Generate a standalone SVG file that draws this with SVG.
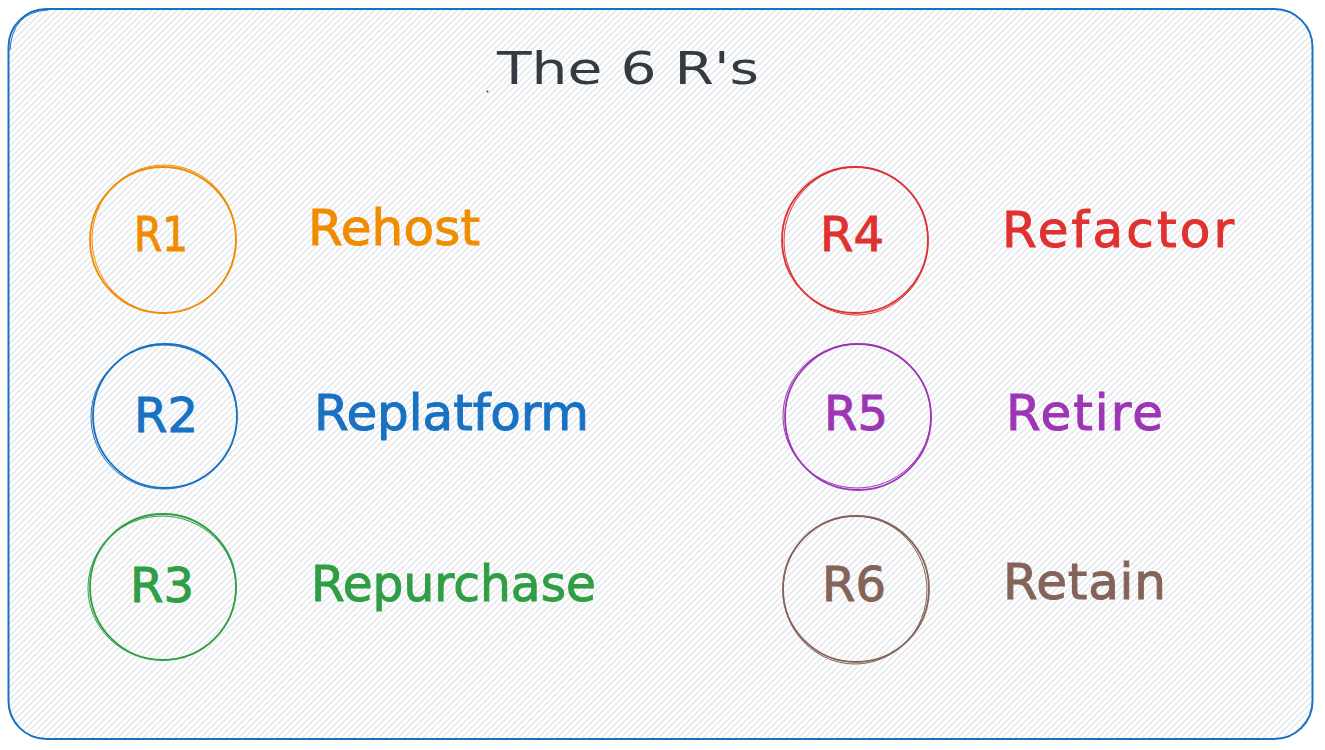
<svg xmlns="http://www.w3.org/2000/svg" width="1325" height="750" viewBox="0 0 1325 750">
  <defs>
    <pattern id="hatch" patternUnits="userSpaceOnUse" width="4.5" height="10" patternTransform="rotate(45)">
      <line x1="2" y1="-1" x2="2" y2="11" stroke="#d5dae0" stroke-width="1"/>
    </pattern>
    <style>
      .lbl { font-family: "DejaVu Sans", "Liberation Sans", sans-serif; font-size: 48px; text-anchor: middle; }
      .name { font-family: "DejaVu Sans", "Liberation Sans", sans-serif; font-size: 50px; }
      .orange { stroke: #f08c00; fill: #f08c00; }
      .blue { stroke: #1971c2; fill: #1971c2; }
      .green { stroke: #2f9e44; fill: #2f9e44; }
      .red { stroke: #e03131; fill: #e03131; }
      .purple { stroke: #9c36b5; fill: #9c36b5; }
      .brown { stroke: #846358; fill: #846358; }
      .ring { fill: none; stroke-width: 1.8; }
      .ring2 { fill: none; stroke-width: 1; }
      text { stroke: none; }
    </style>
  </defs>
  <rect width="1325" height="750" fill="#ffffff"/>
  <g id="frame">
    <rect x="8.5" y="9" width="1304" height="730" rx="38" ry="38" fill="url(#hatch)" stroke="#1971c2" stroke-width="2"/>
    <path d="M10 50 Q12 12 48 10" fill="none" stroke="#1971c2" stroke-width="1"/>
  </g>
  <g id="title">
    <text x="497" y="84" font-family="DejaVu Sans, Liberation Sans, sans-serif" font-size="44" fill="#343a40" textLength="262" lengthAdjust="spacingAndGlyphs">The 6 R's</text>
    <circle cx="487.5" cy="91.5" r="1" fill="#343a40"/>
  </g>
  <g id="r1">
    <circle class="orange ring" cx="163" cy="240" r="73"/>
    <ellipse class="orange ring2" cx="164" cy="239" rx="72" ry="74"/>
    <text class="lbl orange" x="161" y="251" textLength="54" lengthAdjust="spacingAndGlyphs">R1</text>
  </g>
  <g id="rehost">
    <text class="name orange" x="308" y="245" textLength="172" lengthAdjust="spacing">Rehost</text>
  </g>
  <g id="r2">
    <circle class="blue ring" cx="165" cy="416" r="72"/>
    <ellipse class="blue ring2" cx="164" cy="417" rx="73" ry="72"/>
    <text class="lbl blue" x="166" y="432">R2</text>
  </g>
  <g id="replatform">
    <text class="name blue" x="314" y="430" textLength="275" lengthAdjust="spacing">Replatform</text>
  </g>
  <g id="r3">
    <circle class="green ring" cx="163" cy="587" r="73"/>
    <ellipse class="green ring2" cx="162" cy="588" rx="74" ry="72"/>
    <text class="lbl green" x="162" y="602">R3</text>
  </g>
  <g id="repurchase">
    <text class="name green" x="311" y="601" textLength="285" lengthAdjust="spacingAndGlyphs">Repurchase</text>
  </g>
  <g id="r4">
    <circle class="red ring" cx="855" cy="240" r="73"/>
    <ellipse class="red ring2" cx="856" cy="241" rx="72" ry="74"/>
    <text class="lbl red" x="852" y="251">R4</text>
  </g>
  <g id="refactor">
    <text class="name red" x="1002" y="247" textLength="232" lengthAdjust="spacing">Refactor</text>
  </g>
  <g id="r5">
    <circle class="purple ring" cx="858" cy="417" r="73"/>
    <ellipse class="purple ring2" cx="857" cy="416" rx="74" ry="72"/>
    <text class="lbl purple" x="856" y="430">R5</text>
  </g>
  <g id="retire">
    <text class="name purple" x="1006" y="430" textLength="157" lengthAdjust="spacing">Retire</text>
  </g>
  <g id="r6">
    <circle class="brown ring" cx="856" cy="589" r="73"/>
    <ellipse class="brown ring2" cx="855" cy="590" rx="72" ry="74"/>
    <text class="lbl brown" x="854" y="601">R6</text>
  </g>
  <g id="retain">
    <text class="name brown" x="1003" y="599" textLength="163" lengthAdjust="spacing">Retain</text>
  </g>
  <g id="connectors"></g>
</svg>
